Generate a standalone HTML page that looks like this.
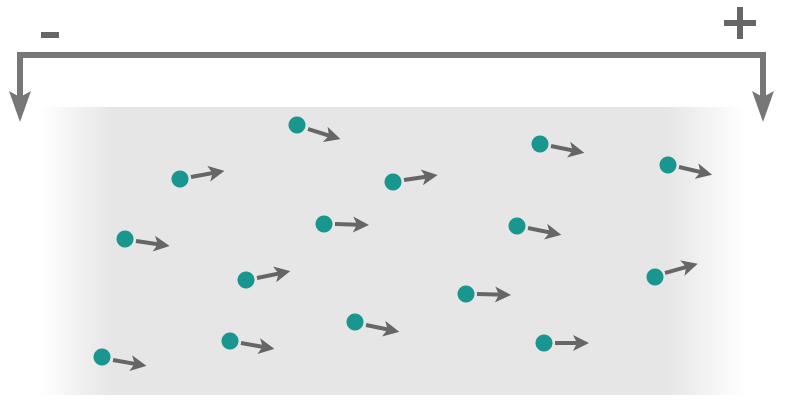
<!DOCTYPE html>
<html><head><meta charset="utf-8"><style>
html,body{margin:0;padding:0;background:#fff;width:787px;height:404px;overflow:hidden}
</style></head><body>
<svg width="787" height="404" viewBox="0 0 787 404" xmlns="http://www.w3.org/2000/svg" xmlns:xlink="http://www.w3.org/1999/xlink">
<defs>
<linearGradient id="g" x1="40" x2="745" y1="0" y2="0" gradientUnits="userSpaceOnUse">
<stop offset="0" stop-color="#e6e6e6" stop-opacity="0"/>
<stop offset="0.1" stop-color="#e6e6e6" stop-opacity="1"/>
<stop offset="0.89" stop-color="#e6e6e6" stop-opacity="1"/>
<stop offset="1" stop-color="#e6e6e6" stop-opacity="0"/>
</linearGradient>
<g id="ar">
<line x1="0" y1="0" x2="24" y2="0" stroke="#666" stroke-width="4"/>
<path d="M34,0 L18,-8 L22,0 L18,8 Z" fill="#666"/>
</g>
</defs>
<rect x="40" y="107" width="705" height="288" fill="url(#g)"/>
<path d="M20,100 V55 H763 V100" fill="none" stroke="#777" stroke-width="6"/>
<path d="M9,91 L20,97 L31,91 L20,122 Z" fill="#777"/>
<path d="M752,91 L763,97 L774,91 L763,122 Z" fill="#777"/>
<rect x="41" y="32" width="18" height="6" fill="#666"/>
<rect x="724" y="20" width="32" height="6" fill="#666"/>
<rect x="737" y="7" width="6" height="32" fill="#666"/>
<use xlink:href="#ar" href="#ar" transform="translate(308,129) rotate(17.4)"/>
<use xlink:href="#ar" href="#ar" transform="translate(551,146) rotate(11.6)"/>
<use xlink:href="#ar" href="#ar" transform="translate(191,177) rotate(-10.3)"/>
<use xlink:href="#ar" href="#ar" transform="translate(404,180) rotate(-8.4)"/>
<use xlink:href="#ar" href="#ar" transform="translate(679,167) rotate(13.2)"/>
<use xlink:href="#ar" href="#ar" transform="translate(335,224) rotate(1.7)"/>
<use xlink:href="#ar" href="#ar" transform="translate(528,228) rotate(11.6)"/>
<use xlink:href="#ar" href="#ar" transform="translate(136,241) rotate(8.4)"/>
<use xlink:href="#ar" href="#ar" transform="translate(257,278) rotate(-11.6)"/>
<use xlink:href="#ar" href="#ar" transform="translate(665,273) rotate(-15.7)"/>
<use xlink:href="#ar" href="#ar" transform="translate(477,294) rotate(1.6)"/>
<use xlink:href="#ar" href="#ar" transform="translate(366,325) rotate(11.6)"/>
<use xlink:href="#ar" href="#ar" transform="translate(241,343) rotate(10)"/>
<use xlink:href="#ar" href="#ar" transform="translate(555,343) rotate(0)"/>
<use xlink:href="#ar" href="#ar" transform="translate(113,360) rotate(10)"/>
<g fill="#1a9690">
<circle cx="297" cy="125" r="8.5"/>
<circle cx="540" cy="144" r="8.5"/>
<circle cx="180" cy="179" r="8.5"/>
<circle cx="393" cy="182" r="8.5"/>
<circle cx="668" cy="165" r="8.5"/>
<circle cx="324" cy="224" r="8.5"/>
<circle cx="517" cy="226" r="8.5"/>
<circle cx="125" cy="239" r="8.5"/>
<circle cx="246" cy="280" r="8.5"/>
<circle cx="655" cy="277" r="8.5"/>
<circle cx="466" cy="294" r="8.5"/>
<circle cx="355" cy="322" r="8.5"/>
<circle cx="230" cy="341" r="8.5"/>
<circle cx="544" cy="343" r="8.5"/>
<circle cx="102" cy="357" r="8.5"/>
</g>
</svg>
</body></html>
